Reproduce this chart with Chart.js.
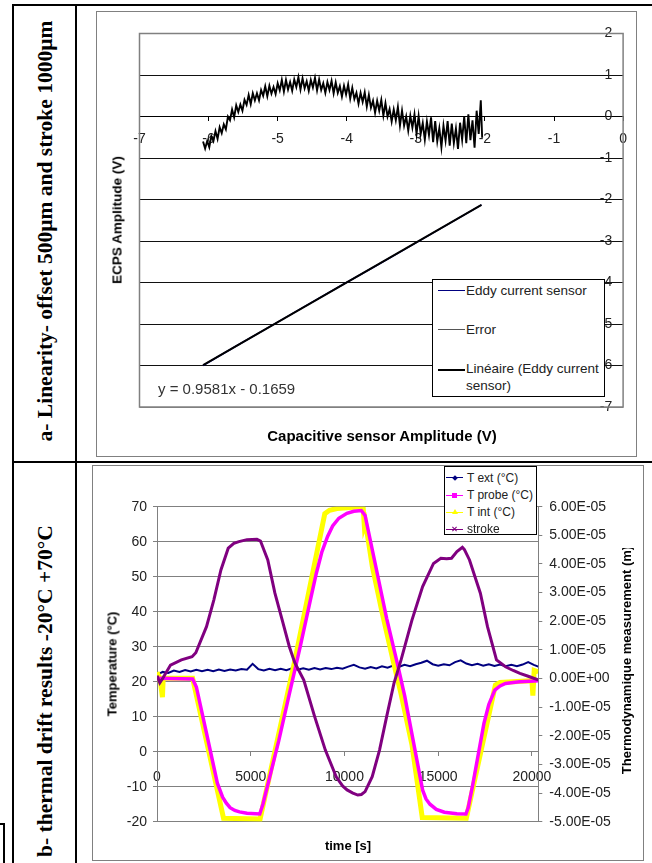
<!DOCTYPE html>
<html>
<head>
<meta charset="utf-8">
<script src="https://cdn.jsdelivr.net/npm/chart.js@4.4.1/dist/chart.umd.min.js"></script>
<style>
  html, body { margin: 0; padding: 0; background: #fff; }
  body { width: 652px; height: 863px; position: relative; overflow: hidden; font-family: "Liberation Sans", Arial, sans-serif; }
  .rule { position: absolute; background: #000; }
  .frame { position: absolute; border: 1px solid #808080; box-sizing: border-box; }
  .holder { position: absolute; }
  .rot { position: absolute; white-space: nowrap; transform: translate(-50%, -50%) rotate(-90deg); }
  .side { font-family: "Liberation Serif", "Times New Roman", serif; font-weight: bold; font-size: 21.5px; color: #000; }
  .atitle { position: absolute; white-space: nowrap; font-weight: bold; color: #000; }
  .box { position: absolute; border: 1px solid #000; box-sizing: border-box; background: #fff; }
  .ln { position: absolute; }
  .lt { position: absolute; white-space: nowrap; transform: translateY(-50%); line-height: 1; color: #222; }
  .mk { position: absolute; }
</style>
</head>
<body>

<!-- table rules -->
<div class="rule" style="left:12px;top:4px;width:640px;height:2px"></div>
<div class="rule" style="left:12px;top:461px;width:640px;height:2px"></div>
<div class="rule" style="left:12px;top:4px;width:2px;height:859px"></div>
<div class="rule" style="left:75px;top:4px;width:2px;height:859px"></div>
<div class="rule" style="left:0;top:823px;width:5px;height:2px"></div>
<div class="rule" style="left:3px;top:823px;width:2px;height:40px"></div>

<div class="rot side" style="left:45px;top:231px">a- Linearity- offset 500µm and stroke 1000µm</div>
<div class="rot side" style="left:45px;top:691px">b- thermal drift results -20°C +70°C</div>

<!-- chart a -->
<div class="frame" style="left:96px;top:11px;width:541px;height:446px"></div>
<div class="holder" style="left:96px;top:11px;width:541px;height:446px"><canvas id="linChart" width="541" height="446"></canvas></div>
<div class="rot atitle" style="left:117px;top:220px;font-size:13.5px">ECPS Amplitude (V)</div>
<div class="atitle" style="left:382px;top:435px;font-size:15px;transform:translate(-50%,-50%)">Capacitive sensor Amplitude (V)</div>
<div class="lt" style="left:158px;top:388px;font-size:15px;color:#333">y = 0.9581x - 0.1659</div>

<div class="box" style="left:432px;top:279px;width:173px;height:118px"></div>
<div class="ln" style="left:438px;top:290px;width:27px;height:1px;background:#000080"></div>
<div class="lt" style="left:466px;top:291px;font-size:13.5px">Eddy current sensor</div>
<div class="ln" style="left:438px;top:329px;width:27px;height:1px;background:#555"></div>
<div class="lt" style="left:466px;top:329.5px;font-size:13.5px">Error</div>
<div class="ln" style="left:438px;top:369px;width:27px;height:2px;background:#000"></div>
<div class="lt" style="left:466px;top:378px;font-size:13.5px;line-height:16.7px">Linéaire (Eddy current<br>sensor)</div>

<!-- chart b -->
<div class="frame" style="left:92px;top:465px;width:552px;height:396px"></div>
<div class="holder" style="left:92px;top:465px;width:552px;height:396px"><canvas id="driftChart" width="552" height="396"></canvas></div>
<div class="rot atitle" style="left:111.5px;top:664px;font-size:13px">Temperature (°C)</div>
<div style="position:absolute;left:612px;top:548px;width:28px;height:236px;overflow:hidden">
  <div class="rot atitle" style="left:14px;top:112px;font-size:13px">Thermodynamique measurement (m)</div>
</div>
<div class="atitle" style="left:348px;top:845px;font-size:13px;transform:translate(-50%,-50%)">time [s]</div>

<div class="box" style="left:444px;top:466px;width:93px;height:69px"></div>
<div class="ln" style="left:446px;top:477px;width:17px;height:1px;background:#000080"></div>
<div class="mk" style="left:452.5px;top:475.5px;width:4px;height:4px;background:#000080;transform:rotate(45deg)"></div>
<div class="lt" style="left:467px;top:477.5px;font-size:12px">T ext (°C)</div>
<div class="ln" style="left:446px;top:494.5px;width:17px;height:1.5px;background:#ff00ff"></div>
<div class="mk" style="left:452px;top:493px;width:5px;height:5px;background:#ff00ff"></div>
<div class="lt" style="left:467px;top:495px;font-size:12px">T probe (°C)</div>
<div class="ln" style="left:446px;top:511.5px;width:17px;height:1.5px;background:#ffff00"></div>
<div class="mk" style="left:451.5px;top:509px;width:0;height:0;border-left:3px solid transparent;border-right:3px solid transparent;border-bottom:5px solid #ffff00"></div>
<div class="lt" style="left:467px;top:512px;font-size:12px">T int (°C)</div>
<div class="ln" style="left:446px;top:528.5px;width:17px;height:1px;background:#800080"></div>
<div class="mk" style="left:454px;top:526px;width:1px;height:6px;background:#800080;transform:rotate(45deg)"></div>
<div class="mk" style="left:454px;top:526px;width:1px;height:6px;background:#800080;transform:rotate(-45deg)"></div>
<div class="lt" style="left:467px;top:529px;font-size:12px">stroke</div>

<script>
// ---- chart a : linearity ----
const capTicks = [-7, -6, -5, -4, -3, -2, -1, 0];
const ecpsTicks = [-7, -6, -5, -4, -3, -2, -1, 0, 1, 2];

const errX = [
  -6.08,-6.05,-6.02,-5.99,-5.96,-5.93,-5.90,-5.87,-5.84,-5.81,-5.78,-5.75,-5.72,-5.69,-5.66,-5.63,-5.60,-5.57,-5.54,-5.51,
  -5.48,-5.45,-5.42,-5.39,-5.36,-5.33,-5.30,-5.27,-5.24,-5.21,-5.18,-5.15,-5.12,-5.09,-5.06,-5.03,-5.00,-4.97,-4.94,-4.91,
  -4.88,-4.85,-4.82,-4.79,-4.76,-4.73,-4.70,-4.67,-4.64,-4.61,-4.58,-4.55,-4.52,-4.49,-4.46,-4.43,-4.40,-4.37,-4.34,-4.31,
  -4.28,-4.25,-4.22,-4.19,-4.16,-4.13,-4.10,-4.07,-4.04,-4.01,-3.98,-3.95,-3.92,-3.89,-3.86,-3.83,-3.80,-3.77,-3.74,-3.71,
  -3.68,-3.65,-3.62,-3.59,-3.56,-3.53,-3.50,-3.47,-3.44,-3.41,-3.38,-3.35,-3.32,-3.29,-3.26,-3.23,-3.20,-3.17,-3.14,-3.11,
  -3.08,-3.05,-3.02,-2.99,-2.96,-2.93,-2.90,-2.87,-2.84,-2.81,-2.78,-2.75,-2.72,-2.69,-2.66,-2.63,-2.60,-2.57,-2.54,-2.51,
  -2.48,-2.45,-2.42,-2.39,-2.36,-2.33,-2.30,-2.27,-2.24,-2.21,-2.18,-2.15,-2.12,-2.09,-2.06,-2.04];
const errY = [
  -0.60,-0.77,-0.59,-0.74,-0.47,-0.59,-0.35,-0.54,-0.26,-0.40,-0.19,-0.31,0.00,-0.09,0.17,-0.02,0.27,0.11,0.29,0.14,
  0.40,0.28,0.52,0.30,0.56,0.39,0.56,0.39,0.64,0.50,0.73,0.49,0.74,0.55,0.71,0.54,0.80,0.63,0.88,0.60,
  0.88,0.65,0.83,0.62,0.89,0.71,0.95,0.65,0.92,0.68,0.85,0.62,0.88,0.70,0.93,0.63,0.89,0.64,0.80,0.57,
  0.83,0.64,0.86,0.56,0.82,0.57,0.73,0.48,0.74,0.53,0.77,0.43,0.69,0.42,0.57,0.31,0.57,0.35,0.58,0.24,
  0.52,0.21,0.38,0.09,0.38,0.14,0.40,0.02,0.32,0.00,0.18,-0.12,0.17,-0.09,0.23,-0.22,0.14,-0.22,0.00,-0.34,
  0.02,-0.27,0.05,-0.42,0.01,-0.42,-0.16,-0.56,-0.12,-0.45,-0.02,-0.62,-0.11,-0.60,-0.28,-0.74,-0.22,-0.58,-0.11,-0.70,
  -0.17,-0.64,-0.29,-0.78,-0.15,-0.56,0.00,-0.64,0.05,-0.57,-0.09,-0.75,0.14,-0.42,0.39,-0.51];

const eddyX = [-6.08, -5.6, -5.1, -4.6, -4.1, -3.6, -3.1, -2.6, -2.05];
const eddyY = [-6.0, -5.53, -5.05, -4.57, -4.09, -3.62, -3.14, -2.66, -2.13];

const trendX = [-6.08, -2.05];
const trendY = [-5.99, -2.13];

// ---- chart b : thermal drift ----
const timeTicks = [0, 5000, 10000, 15000, 20000];
const tempTicks = [-20, -10, 0, 10, 20, 30, 40, 50, 60, 70];
const strokeTicks = [-5e-5, -4e-5, -3e-5, -2e-5, -1e-5, 0, 1e-5, 2e-5, 3e-5, 4e-5, 5e-5, 6e-5];
const strokeLabels = ["-5.00E-05", "-4.00E-05", "-3.00E-05", "-2.00E-05", "-1.00E-05", "0.00E+00",
  "1.00E-05", "2.00E-05", "3.00E-05", "4.00E-05", "5.00E-05", "6.00E-05"];

const extT = [0,300,600,900,1200,1500,1800,2100,2400,2700,3000,3300,3600,3900,4200,4500,4800,5100,5400,5700,
  6000,6300,6600,6900,7200,7500,7800,8100,8400,8700,9000,9300,9600,9900,10200,10500,10800,11100,11400,11700,
  12000,12300,12600,12900,13200,13500,13800,14100,14400,14700,15000,15300,15600,15900,16200,16500,16800,17100,17400,17700,
  18000,18300,18600,18900,19200,19500,19800,20100,20340];
const extV = [21.9,22.8,22.5,23.2,22.8,23.3,22.9,23.4,23.0,23.4,23.0,23.5,23.1,23.5,23.2,23.6,23.4,25.1,23.6,23.2,
  23.7,23.3,23.7,23.3,23.8,23.4,23.8,23.4,23.9,23.5,23.9,23.6,24.0,23.7,24.3,24.8,24.1,23.7,24.2,23.8,
  24.4,24.0,24.6,24.2,24.8,24.4,25.0,25.4,26.0,25.0,24.6,25.0,24.7,25.6,26.1,25.2,24.7,25.1,24.6,25.0,
  24.5,24.9,24.4,24.8,24.4,24.9,25.6,24.8,24.3];

const probeT = [0, 1900, 2100, 2640, 3220, 3500, 3700, 3900, 4150, 4400, 4800, 5480, 5650, 6490, 7060, 7640, 8210, 8500,
  8790, 9100, 9370, 9700, 10130, 10500, 10900, 11100, 11680, 12250, 12830, 13210, 13600, 14170, 14350, 14560, 14900, 15330,
  16000, 16480, 16600, 16860, 17440, 17700, 18020, 18300, 18590, 19000, 19360, 20130, 20340];
const probeV = [21.0, 20.8, 18.5, 5.3, -9.0, -13.0, -14.7, -16.0, -16.8, -17.2, -17.6, -17.8, -15.0, 3.0, 16.5, 30.0, 44.0, 51.0,
  57.0, 61.5, 64.5, 66.7, 68.1, 68.7, 68.9, 67.5, 52.7, 38.1, 25.0, 16.0, 5.0, -11.0, -13.5, -15.0, -16.5, -17.3,
  -17.7, -17.8, -16.0, -9.0, 8.1, 13.5, 17.6, 18.8, 19.5, 19.8, 20.0, 20.2, 20.3];

const intT = [0, 150, 290, 330, 420, 1900, 3550, 5500, 7350, 8950, 9200, 9600, 10300, 10900, 11000, 11060, 11120, 11485,
  12000, 12640, 13020, 13600, 14150, 16500, 18050, 18300, 20000, 20050, 20120, 20340];
const intV = [22.7, 21.0, 15.6, 21.0, 21.0, 21.0, -19.0, -19.2, 26.0, 68.0, 69.0, 69.5, 69.8, 70.0, 69.5, 64.5, 65.5, 53.0,
  40.0, 25.0, 16.5, 2.0, -18.8, -19.0, 19.0, 19.8, 20.3, 16.0, 23.2, 22.8];

const strokeT = [0, 150, 300, 720, 1300, 1870, 2070, 2640, 3030, 3410, 3800, 4100, 4370, 4800, 5330, 5520, 5910, 6290, 6680,
  7060, 7350, 7830, 8410, 8980, 9560, 9900, 10140, 10450, 10710, 10900, 11100, 11480, 11870, 12250, 12640, 13020, 13600,
  14170, 14750, 15140, 15450, 15710, 16000, 16290, 16400, 16670, 17250, 17630, 18110, 18590, 19000, 19360, 19800, 20130, 20340];
const strokeV = [0.1e-5, -0.15e-5, 0, 0.47e-5, 0.65e-5, 0.76e-5, 0.9e-5, 1.81e-5, 2.74e-5, 3.79e-5, 4.55e-5, 4.72e-5, 4.78e-5,
  4.85e-5, 4.86e-5, 4.8e-5, 4.14e-5, 2.98e-5, 2.04e-5, 1.11e-5, 0.55e-5, -0.05e-5, -1.33e-5, -2.5e-5, -3.43e-5, -3.75e-5,
  -3.89e-5, -4.0e-5, -4.07e-5, -4.05e-5, -3.95e-5, -3.43e-5, -2.5e-5, -1.33e-5, -0.17e-5, 0.65e-5, 2.04e-5, 3.21e-5, 4.02e-5,
  4.2e-5, 4.18e-5, 4.2e-5, 4.43e-5, 4.58e-5, 4.5e-5, 4.14e-5, 2.98e-5, 1.81e-5, 0.65e-5, 0.41e-5, 0.28e-5, 0.18e-5, 0.08e-5,
  0, -0.05e-5];

Chart.defaults.font.family = '"Liberation Sans", Arial, sans-serif';

const pts = (xs, ys) => xs.map((x, i) => ({ x, y: ys[i] }));
const useTicks = list => scale => { scale.ticks = list.map(value => ({ value })); };

// grey frame round the plot area of chart a
const plotFrame = {
  id: "plotFrame",
  beforeDatasetsDraw(chart) {
    const { ctx, chartArea: a } = chart;
    ctx.save();
    ctx.strokeStyle = "#808080";
    ctx.lineWidth = 1.5;
    ctx.strokeRect(a.left, a.top, a.right - a.left, a.bottom - a.top);
    ctx.restore();
  }
};

new Chart(document.getElementById("linChart"), {
  type: "scatter",
  data: {
    datasets: [
      { label: "Linéaire (Eddy current sensor)", data: pts(trendX, trendY), showLine: true,
        borderColor: "#000", borderWidth: 2, pointRadius: 0, order: 0 },
      { label: "Eddy current sensor", data: pts(eddyX, eddyY), showLine: true,
        borderColor: "#000080", borderWidth: 1.5, pointRadius: 0, order: 1 },
      { label: "Error", data: pts(errX, errY), showLine: true,
        borderColor: "#000", borderWidth: 1.9, pointRadius: 0, order: 2 }
    ]
  },
  options: {
    responsive: false,
    animation: false,
    layout: { padding: { left: 43.5, top: 22.5, right: 11, bottom: 50 } },
    plugins: { legend: { display: false }, tooltip: { enabled: false } },
    scales: {
      x: {
        type: "linear", min: -7, max: 0, position: { y: 0 },
        afterFit: s => { s.height = 0; },
        afterBuildTicks: useTicks(capTicks),
        grid: { drawOnChartArea: false, tickLength: 4, color: "#000" },
        border: { color: "#000" },
        ticks: { padding: 10, color: "#222", font: { size: 14 }, maxRotation: 0, autoSkip: false, callback: v => String(v) }
      },
      y: {
        // labels sit just inside the right edge (x = 0), as in the Excel original
        type: "linear", min: -7, max: 2, position: { x: -0.158 },
        afterFit: s => { s.width = 0; },
        afterBuildTicks: useTicks(ecpsTicks),
        grid: {
          drawTicks: false,
          color: c => (c.tick && (c.tick.value === 2 || c.tick.value === -7)) ? "#808080" : "#111"
        },
        border: { display: false },
        ticks: { color: "#222", font: { size: 14 }, autoSkip: false, callback: v => String(v) }
      }
    }
  },
  plugins: [plotFrame]
});

new Chart(document.getElementById("driftChart"), {
  type: "scatter",
  data: {
    datasets: [
      { label: "stroke", data: pts(strokeT, strokeV), yAxisID: "y2", showLine: true,
        borderColor: "#800080", borderWidth: 3, pointRadius: 0, order: 0 },
      { label: "T probe (°C)", data: pts(probeT, probeV), showLine: true,
        borderColor: "#ff00ff", borderWidth: 3.5, pointRadius: 0, order: 1 },
      { label: "T int (°C)", data: pts(intT, intV), showLine: true,
        borderColor: "#ffff00", borderWidth: 5, pointRadius: 0, order: 2 },
      { label: "T ext (°C)", data: pts(extT, extV), showLine: true,
        borderColor: "#000080", borderWidth: 2, pointRadius: 0, order: 3 }
    ]
  },
  options: {
    responsive: false,
    animation: false,
    layout: { padding: { left: 0, top: 41.7, right: 0, bottom: 39.3 } },
    plugins: { legend: { display: false }, tooltip: { enabled: false } },
    scales: {
      x: {
        type: "linear", min: 0, max: 20340, position: { y: 0 },
        afterFit: s => { s.height = 0; },
        afterBuildTicks: useTicks(timeTicks),
        grid: { drawOnChartArea: false, tickLength: 4, color: "#808080" },
        border: { color: "#808080" },
        ticks: { padding: 13, color: "#222", font: { size: 14 }, maxRotation: 0, autoSkip: false, callback: v => String(v) }
      },
      y: {
        type: "linear", position: "left", min: -20, max: 70,
        afterFit: s => { s.width = 65; },
        afterBuildTicks: useTicks(tempTicks),
        grid: { tickLength: 4, color: "#808080" },
        border: { color: "#808080" },
        ticks: { padding: 6, color: "#222", font: { size: 14 }, autoSkip: false, callback: v => String(v) }
      },
      y2: {
        type: "linear", position: "right", min: -5e-5, max: 6e-5,
        afterFit: s => { s.width = 105.7; },
        afterBuildTicks: useTicks(strokeTicks),
        grid: { drawOnChartArea: false, tickLength: 4, color: "#808080" },
        border: { color: "#808080" },
        ticks: { padding: 7, color: "#222", font: { size: 14 }, autoSkip: false, callback: (v, i) => strokeLabels[i] }
      }
    }
  }
});
</script>
</body>
</html>
